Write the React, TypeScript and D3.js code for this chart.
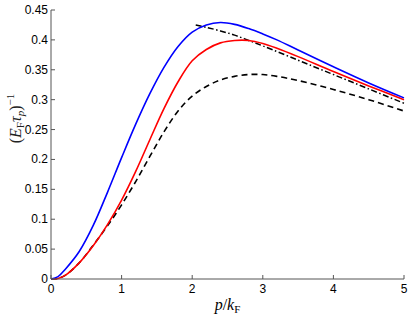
import React from 'react';
import * as d3 from 'd3';

// p / k_F sample positions and curve values
const P_MAIN = [0, 0.1, 0.2, 0.4, 0.6, 0.8, 1.0, 1.2, 1.4, 1.6, 1.8, 2.0, 2.2, 2.4, 2.6, 2.8, 3.0, 3.2, 3.5, 4.0, 4.5, 5.0];
const BLUE = [0, 0.004, 0.016, 0.046, 0.09, 0.145, 0.203, 0.259, 0.31, 0.354, 0.389, 0.413, 0.425, 0.429, 0.426, 0.419, 0.41, 0.4, 0.383, 0.355, 0.328, 0.303];
const RED = [0, 0.001, 0.006, 0.027, 0.056, 0.091, 0.132, 0.18, 0.233, 0.285, 0.33, 0.365, 0.384, 0.395, 0.399, 0.399, 0.394, 0.386, 0.372, 0.347, 0.323, 0.3];
const DASHED = [0, 0.001, 0.006, 0.027, 0.057, 0.089, 0.124, 0.163, 0.205, 0.246, 0.281, 0.306, 0.322, 0.333, 0.339, 0.342, 0.342, 0.339, 0.332, 0.317, 0.3, 0.281];

const P_ASYM = [2.05, 2.2, 2.4, 2.6, 2.8, 3.0, 3.5, 4.0, 4.5, 5.0];
const DASHDOT = [0.425, 0.421, 0.415, 0.408, 0.399, 0.39, 0.366, 0.342, 0.318, 0.294];

const X_TICKS = [0, 1, 2, 3, 4, 5];
const Y_TICKS = [0, 0.05, 0.1, 0.15, 0.2, 0.25, 0.3, 0.35, 0.4, 0.45];

const W = 411;
const H = 317;
const margin = { left: 51, right: 7, top: 10, bottom: 38 };

export default function App() {
  const x = d3.scaleLinear().domain([0, 5]).range([margin.left, W - margin.right]);
  const y = d3.scaleLinear().domain([0, 0.45]).range([H - margin.bottom, margin.top]);

  const line = (xs: number[], ys: number[]) =>
    d3.line<number>()
      .x((_, i) => x(xs[i]))
      .y(d => y(d))
      .curve(d3.curveCatmullRom.alpha(0.5))(ys) || '';

  const axisColor = '#555';
  const tickFont = 'Liberation Sans, Arial, Helvetica, sans-serif';
  const mathFont = 'Liberation Serif, Times New Roman, serif';

  return (
    <svg width={W} height={H} style={{ position: 'absolute', left: 0, top: 0, background: '#fff' }}>
      {/* curves */}
      <path d={line(P_MAIN, DASHED)} fill="none" stroke="#000" strokeWidth={1.6} strokeDasharray="6,4" />
      <path d={line(P_ASYM, DASHDOT)} fill="none" stroke="#000" strokeWidth={1.5} strokeDasharray="6,2.5,1.5,2.5" />
      <path d={line(P_MAIN, RED)} fill="none" stroke="#ff0000" strokeWidth={1.6} />
      <path d={line(P_MAIN, BLUE)} fill="none" stroke="#0000ff" strokeWidth={1.6} />

      {/* axes */}
      <line x1={x(0)} x2={x(5)} y1={y(0)} y2={y(0)} stroke={axisColor} strokeWidth={1} />
      <line x1={x(0)} x2={x(0)} y1={y(0)} y2={y(0.45)} stroke={axisColor} strokeWidth={1} />

      {X_TICKS.map(t => (
        <g key={'x' + t}>
          <line x1={x(t)} x2={x(t)} y1={y(0)} y2={y(0) - 4} stroke={axisColor} />
          <text x={x(t)} y={y(0) + 14} textAnchor="middle" fontFamily={tickFont} fontSize={12} fill="#000">{t}</text>
        </g>
      ))}
      {Y_TICKS.map(t => (
        <g key={'y' + t}>
          <line x1={x(0)} x2={x(0) + 4} y1={y(t)} y2={y(t)} stroke={axisColor} />
          <text x={x(0) - 3} y={y(t) + 4} textAnchor="end" fontFamily={tickFont} fontSize={12} fill="#000">{d3.format('~g')(t)}</text>
        </g>
      ))}

      {/* x label: p / k_F */}
      <text x={(x(0) + x(5)) / 2} y={310} textAnchor="middle" fontFamily={mathFont} fontSize={16} fill="#000">
        <tspan fontStyle="italic">p</tspan>
        <tspan>/</tspan>
        <tspan fontStyle="italic">k</tspan>
        <tspan fontSize={11} dy={3}>F</tspan>
      </text>

      {/* y label: (E_F tau_p)^-1 */}
      <text transform={`translate(21,${(y(0) + y(0.45)) / 2 - 26}) rotate(-90)`} textAnchor="middle" fontFamily={mathFont} fontSize={16} fill="#222">
        <tspan>(</tspan>
        <tspan fontStyle="italic">E</tspan>
        <tspan fontSize={11} dy={3}>F</tspan>
        <tspan fontStyle="italic" dy={-3}>τ</tspan>
        <tspan fontStyle="italic" fontSize={11} dy={3}>p</tspan>
        <tspan dy={-3}>)</tspan>
        <tspan fontSize={11} dy={-7}>−1</tspan>
      </text>
    </svg>
  );
}
